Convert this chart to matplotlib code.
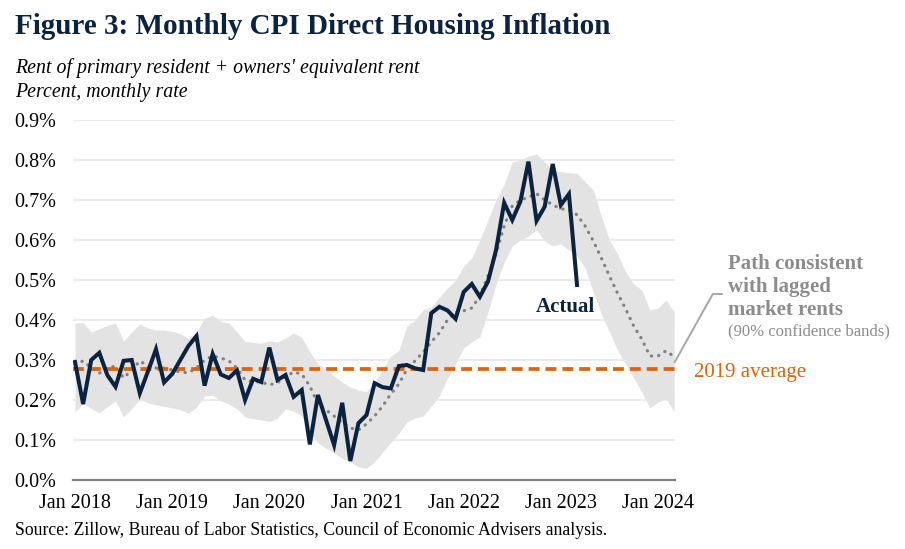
"""Figure 3: Monthly CPI direct housing inflation, actual vs path from lagged market rents"""

import numpy
import matplotlib
matplotlib.use('Agg')
import matplotlib.pyplot as plt

plt.rcParams['font.family'] = ['Liberation Serif', 'DejaVu Serif']

# months counted from Jan 2018 (0) to Mar 2024 (74)
actual = [0.295, 0.19, 0.30, 0.318, 0.262, 0.233, 0.298, 0.30, 0.217, 0.271, 0.327, 0.244,   # 2018
          0.265, 0.30, 0.335, 0.36, 0.236, 0.315, 0.264, 0.255, 0.274, 0.20, 0.253, 0.245,    # 2019
          0.331, 0.25, 0.2625, 0.208, 0.225, 0.089, 0.2125, 0.15, 0.0875, 0.193, 0.0475, 0.142, # 2020
          0.1625, 0.242, 0.232, 0.229, 0.285, 0.2875, 0.279, 0.275, 0.417, 0.433, 0.424, 0.403, # 2021
          0.47, 0.49, 0.458, 0.496, 0.575, 0.693, 0.65, 0.696, 0.796, 0.648, 0.683, 0.79,       # 2022
          0.6875, 0.715, 0.4875]                                                              # 2023
path = [0.29, 0.2975, 0.28, 0.267, 0.28, 0.285, 0.255, 0.275, 0.2975, 0.285, 0.28, 0.28,
        0.275, 0.27, 0.268, 0.28, 0.30, 0.31, 0.305, 0.298, 0.28, 0.25, 0.246, 0.245,
        0.238, 0.243, 0.258, 0.27, 0.265, 0.235, 0.19, 0.175, 0.16, 0.143, 0.13, 0.125,
        0.14, 0.16, 0.185, 0.215, 0.24, 0.277, 0.298, 0.32, 0.345, 0.368, 0.40, 0.42,
        0.423, 0.43, 0.46, 0.51, 0.565, 0.635, 0.685, 0.70, 0.707, 0.716, 0.70, 0.688,
        0.678, 0.675, 0.663, 0.635, 0.598, 0.555, 0.51, 0.467, 0.428, 0.385, 0.352, 0.31,
        0.31, 0.323, 0.308]
upper = [0.392, 0.393, 0.37, 0.378, 0.387, 0.392, 0.348, 0.37, 0.39, 0.38, 0.375, 0.375,
         0.372, 0.366, 0.354, 0.37, 0.405, 0.412, 0.396, 0.393, 0.37, 0.346, 0.344, 0.342,
         0.348, 0.345, 0.355, 0.367, 0.357, 0.32, 0.29, 0.277, 0.26, 0.245, 0.232, 0.225,
         0.221, 0.245, 0.275, 0.31, 0.324, 0.385, 0.40, 0.425, 0.433, 0.457, 0.48, 0.50,
         0.535, 0.555, 0.60, 0.65, 0.70, 0.74, 0.795, 0.80, 0.81, 0.815, 0.795, 0.775,
         0.771, 0.768, 0.767, 0.746, 0.725, 0.66, 0.60, 0.565, 0.52, 0.49, 0.475, 0.425,
         0.43, 0.45, 0.42]
lower = [0.171, 0.19, 0.179, 0.168, 0.183, 0.198, 0.158, 0.179, 0.202, 0.193, 0.188, 0.184,
         0.18, 0.176, 0.167, 0.182, 0.21, 0.212, 0.198, 0.19, 0.178, 0.158, 0.153, 0.15,
         0.146, 0.155, 0.178, 0.172, 0.16, 0.117, 0.093, 0.08, 0.068, 0.054, 0.045, 0.033,
         0.029, 0.046, 0.07, 0.094, 0.117, 0.145, 0.155, 0.16, 0.185, 0.21, 0.255, 0.29,
         0.33, 0.345, 0.358, 0.42, 0.49, 0.545, 0.585, 0.60, 0.61, 0.625, 0.598, 0.585,
         0.59, 0.575, 0.56, 0.53, 0.47, 0.415, 0.37, 0.325, 0.29, 0.255, 0.22, 0.18,
         0.195, 0.203, 0.171]
avg_2019 = 0.277
xtick_pos = [0, 12, 24, 36, 48, 60, 72]
xtick_labels = ['Jan 2018', 'Jan 2019', 'Jan 2020', 'Jan 2021', 'Jan 2022', 'Jan 2023', 'Jan 2024']
yticks = [0.0, 0.1, 0.2, 0.3, 0.4, 0.5, 0.6, 0.7, 0.8, 0.9]

navy = '#0C2340'
orange = '#E0620D'
grey = '#8C8C8C'

m_act = numpy.arange(len(actual))
m_path = numpy.arange(len(path))

fig = plt.figure(figsize=(9.05, 5.49), dpi=100)
ax = fig.add_axes([73 / 905, 1 - 480 / 549, (675 - 73) / 905, 360 / 549])

ax.fill_between(m_path, lower, upper, color='#E3E3E3', lw=0, zorder=1)
for y in yticks:
    ax.axhline(y, color='#EBEBEB', lw=1.4, zorder=0.5)
ax.axhline(avg_2019, color=orange, lw=2.7, dashes=(2.9, 1.6), zorder=3)
ax.plot(m_path, path, color='#808080', lw=2.3, dashes=(0.1, 2.2), dash_capstyle='round', zorder=2)
ax.plot(m_act, actual, color=navy, lw=2.9, zorder=4, solid_joinstyle='miter')

ax.set_xlim(-0.25, 74.1)
ax.set_ylim(0, 0.9)
ax.set_yticks(yticks)
ax.set_yticklabels(['%.1f%%' % y for y in yticks])
ax.set_xticks(xtick_pos)
ax.set_xticklabels(xtick_labels)
ax.tick_params(axis='both', length=0, labelsize=14.5, colors='black')
ax.tick_params(axis='y', pad=12)
ax.tick_params(axis='x', pad=10)
for s in ['top', 'right', 'left']:
    ax.spines[s].set_visible(False)
ax.spines['bottom'].set_color('#808080')
ax.spines['bottom'].set_linewidth(1.6)
ax.spines['bottom'].set_zorder(5)

# annotations
ax.text(60.6, 0.4325, 'Actual', color=navy, fontsize=15, fontweight='bold', ha='center', va='center')
ax.plot([74.07, 78.77, 79.88], [0.295, 0.465, 0.465], color='#A6A6A6', lw=1.4, clip_on=False)
ax.text(80.7, 0.4825, 'Path consistent\nwith lagged\nmarket rents', color=grey, fontsize=15,
        fontweight='bold', ha='left', va='center', linespacing=1.17, clip_on=False)
ax.text(80.6, 0.3725, '(90% confidence bands)', color=grey, fontsize=12, ha='left', va='center', clip_on=False)
ax.text(76.4, 0.27, '2019 average', color=orange, fontsize=15, ha='left', va='center', clip_on=False)

fig.text(15 / 905, 1 - 34 / 549, 'Figure 3: Monthly CPI Direct Housing Inflation', color=navy,
         fontsize=21, fontweight='bold', ha='left', va='baseline')
fig.text(15 / 905, 1 - 73 / 549, "Rent of primary resident + owners' equivalent rent", fontsize=14.3,
         style='italic', ha='left', va='baseline')
fig.text(15 / 905, 1 - 97 / 549, 'Percent, monthly rate', fontsize=14.3, style='italic', ha='left', va='baseline')
fig.text(15 / 905, 1 - 535 / 549, 'Source: Zillow, Bureau of Labor Statistics, Council of Economic Advisers analysis.',
         fontsize=12.8, ha='left', va='baseline')

fig.savefig('out.png', dpi=100)
